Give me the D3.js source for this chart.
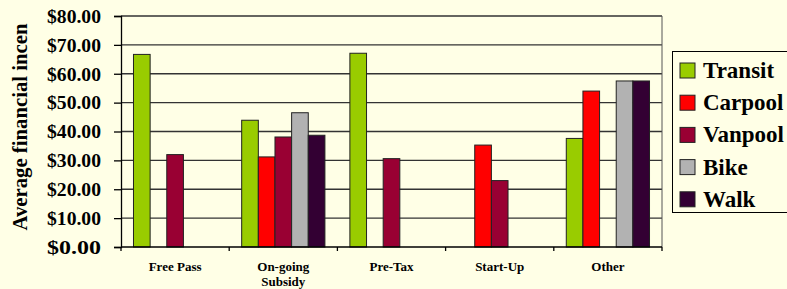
<!DOCTYPE html>
<html><head><meta charset="utf-8">
<script src="https://cdn.jsdelivr.net/npm/d3@7"></script>
<style>
html,body{margin:0;padding:0;background:#FFFFE6;overflow:hidden;}
svg{display:block;}
</style></head>
<body>
<svg id="chart" width="787" height="289"></svg>
<script>
const categories = ["Free Pass", "On-going\nSubsidy", "Pre-Tax", "Start-Up", "Other"];
const seriesNames = ["Transit", "Carpool", "Vanpool", "Bike", "Walk"];
const seriesColors = ["#99CC00", "#FF0000", "#990033", "#B2B2B2", "#330033"];
const transit = [66.7, 43.9, 67.1, null, 37.6];
const carpool = [null, 31.2, null, 35.3, 54.0];
const vanpool = [32.0, 38.1, 30.6, 23.0, null];
const bike    = [null, 46.5, null, null, 57.5];
const walk    = [null, 38.7, null, null, 57.5];
const yTicks = [0, 10, 20, 30, 40, 50, 60, 70, 80];
const yTitle = "Average financial incen";

const FONT = "Liberation Serif";
const seriesValues = [transit, carpool, vanpool, bike, walk];
const svg = d3.select("#chart");
const L = 121, R = 662, T = 16, B = 247;
function styleText(sel, size) {
  return sel.attr("font-family", FONT).attr("font-weight", "bold").attr("font-size", size).attr("fill", "#000");
}

const x0 = d3.scaleBand().domain(categories).range([L, R]).paddingInner(0).paddingOuter(0);
const x1 = d3.scaleBand().domain(seriesNames).range([0, x0.bandwidth()]).paddingInner(0).paddingOuter(0.75);
const y = d3.scaleLinear().domain([0, 80]).range([B, T]);

// gridlines
svg.append("g").selectAll("line").data(yTicks.filter(d => d > 0)).join("line")
  .attr("x1", L).attr("x2", R).attr("y1", d => y(d)).attr("y2", d => y(d))
  .attr("stroke", "#333").attr("stroke-width", 1.3);
// right border
svg.append("line").attr("x1", R).attr("x2", R).attr("y1", T).attr("y2", B).attr("stroke", "#555").attr("stroke-width", 1);

// bars
categories.forEach((c, ci) => {
  seriesNames.forEach((s, si) => {
    const v = seriesValues[si][ci];
    if (v == null) return;
    svg.append("rect")
      .attr("x", x0(c) + x1(s)).attr("y", y(v))
      .attr("width", x1.bandwidth()).attr("height", y(0) - y(v))
      .attr("fill", seriesColors[si]).attr("stroke", "#222").attr("stroke-width", 1);
  });
});

// y axis
const yAxis = d3.axisLeft(y).tickValues(yTicks).tickSize(7).tickFormat(d => "$" + d3.format(".2f")(d));
const gy = svg.append("g").attr("transform", `translate(${L},0)`).call(yAxis)
  .attr("font-family", FONT).attr("font-size", 18).attr("font-weight", "bold");
gy.select(".domain").attr("stroke", "#000").attr("stroke-width", 1.3);
gy.selectAll(".tick line").attr("stroke", "#000").attr("stroke-width", 1.3);
gy.selectAll(".tick text").attr("x", -20).attr("dy", "0.35em").attr("fill", "#000")
  .attr("textLength", 54).attr("lengthAdjust", "spacingAndGlyphs");

// x axis
const gx = svg.append("g").attr("transform", `translate(0,${B})`);
gx.append("line").attr("x1", L).attr("x2", R).attr("y1", 0).attr("y2", 0).attr("stroke", "#000").attr("stroke-width", 1.3);
const bounds = categories.map(c => x0(c)).concat([R]);
gx.selectAll(".tk").data(bounds).join("line").attr("class", "tk")
  .attr("x1", d => d).attr("x2", d => d).attr("y1", 0).attr("y2", 4).attr("stroke", "#000").attr("stroke-width", 1.3);
categories.forEach(c => {
  const lines = c.split("\n");
  const cx = x0(c) + x0.bandwidth() / 2;
  const t = styleText(gx.append("text"), 13).attr("text-anchor", "middle").attr("x", cx).attr("y", 24);
  lines.forEach((ln, i) => t.append("tspan").attr("x", cx).attr("dy", i === 0 ? 0 : 15).text(ln));
});

// y title
styleText(svg.append("text"), 20).attr("transform", "translate(27,127) rotate(-90)").attr("text-anchor", "middle")
  .attr("textLength", 207).attr("lengthAdjust", "spacingAndGlyphs").text(yTitle);

// legend
const lg = svg.append("g");
lg.append("rect").attr("x", 672.5).attr("y", 51.5).attr("width", 130).attr("height", 161)
  .attr("fill", "#FFFFE6").attr("stroke", "#000").attr("stroke-width", 1);
seriesNames.forEach((s, i) => {
  const cy = 70 + i * 32.2;
  lg.append("rect").attr("x", 680).attr("y", cy - 7).attr("width", 15).attr("height", 15)
    .attr("fill", seriesColors[i]).attr("stroke", "#222").attr("stroke-width", 1);
  styleText(lg.append("text"), 23).attr("x", 703).attr("y", cy + 8).text(s);
});
</script>
</body></html>
